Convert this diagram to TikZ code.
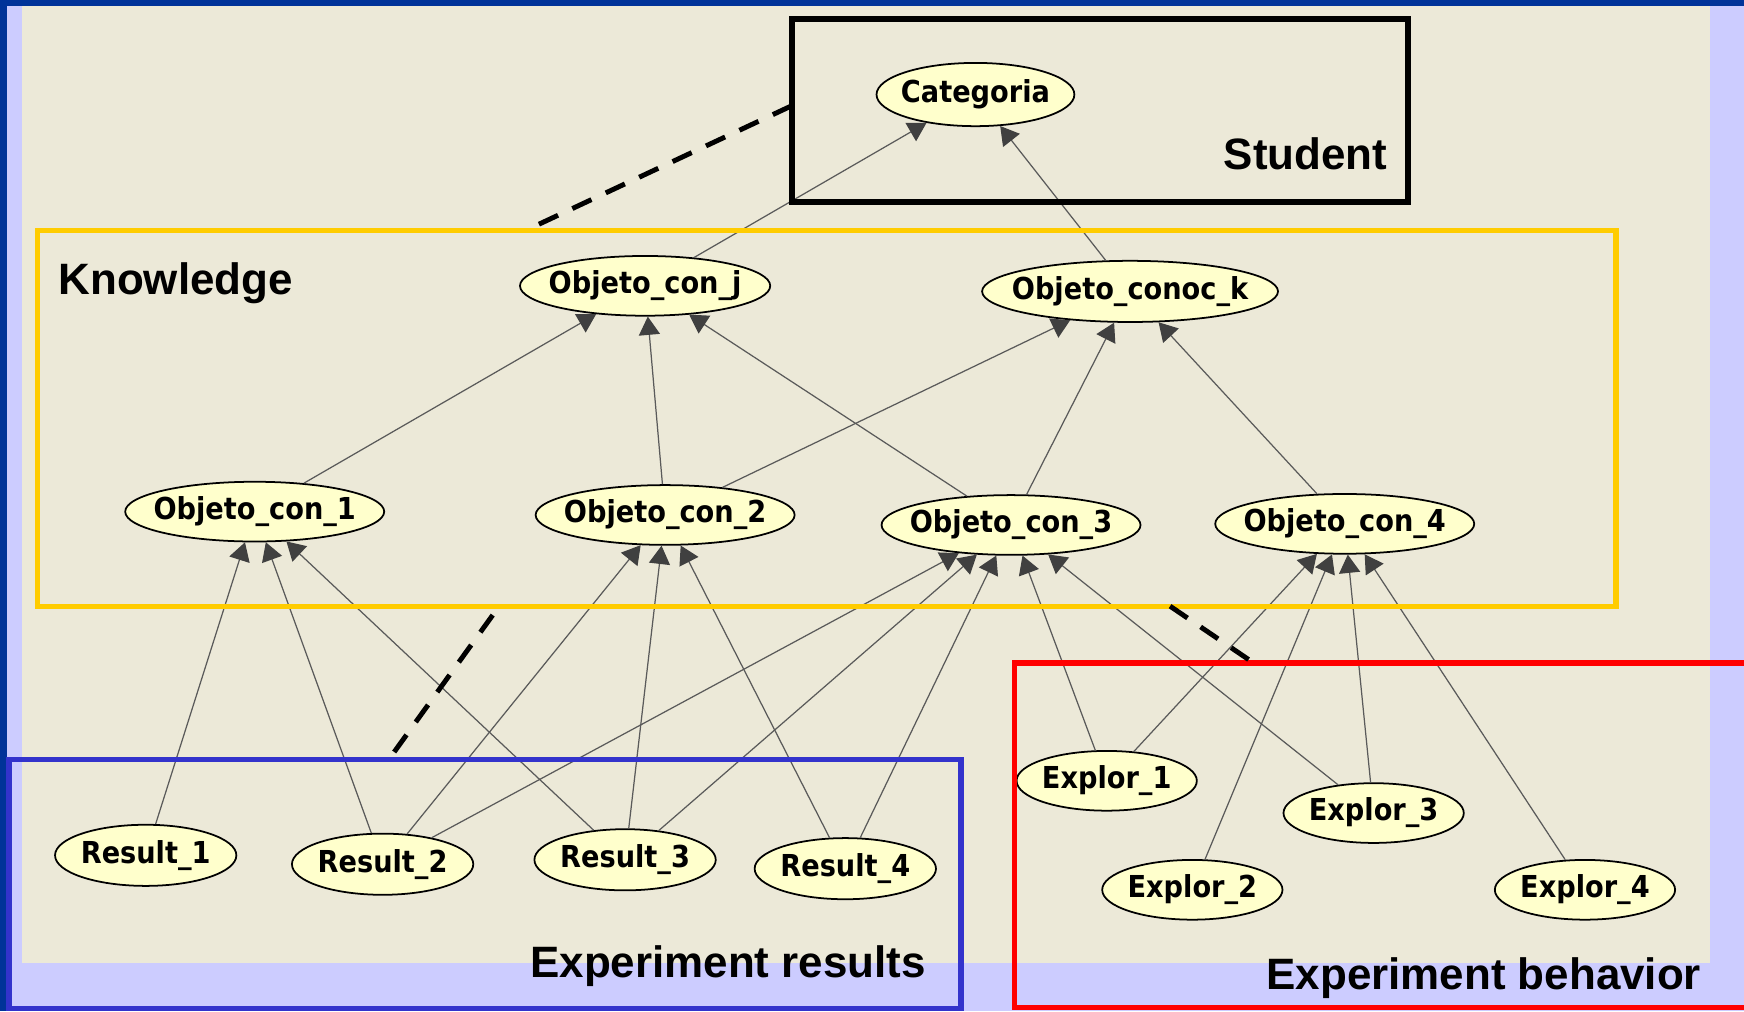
\documentclass[tikz,border=0pt]{standalone}
\usepackage{fontspec}
\setmainfont{Liberation Sans}
\newfontfamily\nodefont{DejaVu Sans}[FakeStretch=0.9]
\usepackage{xcolor}
\usetikzlibrary{positioning,shapes.geometric,arrows.meta}

\definecolor{lavender}{HTML}{CCCCFF}
\definecolor{darkblue}{HTML}{003399}
\definecolor{panel}{HTML}{ECE9D8}
\definecolor{knowyellow}{HTML}{FFCC00}
\definecolor{resblue}{HTML}{3333CC}
\definecolor{nodefill}{HTML}{FFFFCC}
\definecolor{linkgray}{HTML}{5A5A5A}
\definecolor{tipgray}{HTML}{404040}

\begin{document}
\begin{tikzpicture}[
    x=0.011122cm, y=-0.011122cm,
    var/.style={ellipse, draw=black, line width=0.5pt, fill=nodefill, inner xsep=-14pt, inner ysep=0pt, minimum height=17pt, font=\nodefont\bfseries\fontsize{8.6}{10}\selectfont},
    obj/.style={var, minimum width=73.7pt},
    res/.style={var, minimum width=51.6pt, minimum height=17.4pt},
    expl/.style={var, minimum width=51.3pt},
    link/.style={draw=linkgray, line width=0.35pt, -{Triangle[length=5.2pt, width=6pt, color=tipgray]}},
    group/.style={line width=1.5pt},
    tag/.style={inner sep=0pt, font=\bfseries\fontsize{12.5}{15}\selectfont},
    hint/.style={line width=1.4pt, dash pattern=on 6pt off 4.5pt},
]
\useasboundingbox (0,0) rectangle (1568,909);
\clip (0,0) rectangle (1568,909);

% Background
\fill[lavender] (0,0) rectangle (1568,909);
\fill[panel] (20,5) rectangle (1537,866);
\fill[darkblue] (0,0) rectangle (1568,5);
\fill[darkblue] (0,0) rectangle (6,909);

% Top level
\node[var, minimum width=56.3pt, minimum height=18pt] (cat) at (877,85) {Categoria};

% Knowledge objects
\node[var, minimum width=71.2pt] (conj) at (580,257) {Objeto\_con\_j};
\node[var, minimum width=84.2pt, minimum height=17.4pt] (conk) at (1016,262) {Objeto\_conoc\_k};
\node[obj] (con1) at (229,460) {Objeto\_con\_1};
\node[obj] (con2) at (598,463) {Objeto\_con\_2};
\node[obj] (con3) at (909,472) {Objeto\_con\_3};
\node[obj] (con4) at (1209,471) {Objeto\_con\_4};

% Results
\node[res] (res1) at (131,769) {Result\_1};
\node[res] (res2) at (344,777) {Result\_2};
\node[res] (res3) at (562,773) {Result\_3};
\node[res] (res4) at (760,781) {Result\_4};

% Exploration
\node[expl] (exp1) at (995,702) {Explor\_1};
\node[expl] (exp2) at (1072,800) {Explor\_2};
\node[expl] (exp3) at (1235,731) {Explor\_3};
\node[expl] (exp4) at (1425,800) {Explor\_4};

% Links to Categoria
\draw[link] (conj) -- (cat);
\draw[link] (conk) -- (cat);

% Links between knowledge objects
\draw[link] (con1) -- (conj);
\draw[link] (con2) -- (conj);
\draw[link] (con3) -- (conj);
\draw[link] (con2) -- (conk);
\draw[link] (con3) -- (conk);
\draw[link] (con4) -- (conk);

% Links from results
\draw[link] (res1) -- (con1);
\draw[link] (res2) -- (con1);
\draw[link] (res3) -- (con1);
\draw[link] (res2) -- (con2);
\draw[link] (res3) -- (con2);
\draw[link] (res4) -- (con2);
\draw[link] (res2) -- (con3);
\draw[link] (res3) -- (con3);
\draw[link] (res4) -- (con3);

% Links from exploration
\draw[link] (exp1) -- (con3);
\draw[link] (exp3) -- (con3);
\draw[link] (exp1) -- (con4);
\draw[link] (exp2) -- (con4);
\draw[link] (exp3) -- (con4);
\draw[link] (exp4) -- (con4);

% Group frames
\draw[group, line width=1.7pt, black] (712,17) rectangle (1266,182);
\draw[group, knowyellow] (34,207) rectangle (1453,545);
\draw[group, resblue] (8,683) rectangle (864,907);
\draw[group, red] (912,596) rectangle (1600,906);

% Group labels
\node[tag, anchor=base east] (stutag) at (1248,152) {Student};
\node[tag, anchor=base west] (knowtag) at (52,265) {Knowledge};
\node[tag, anchor=base east] (restag) at (833,879) {Experiment results};
\node[tag, anchor=base east] (exptag) at (1530,890) {Experiment behavior};

% Dashed hints between frames
\coordinate (stu-w) at (712,95);
\coordinate (know-n) at (473,207);
\coordinate (know-s) at (443,553);
\coordinate (res-n) at (348,685);
\coordinate (know-se) at (1052,545);
\coordinate (beh-n) at (1127,596);
\draw[hint] (stu-w) -- (know-n);
\draw[hint] (know-s) -- (res-n);
\draw[hint] (know-se) -- (beh-n);

\end{tikzpicture}
\end{document}
